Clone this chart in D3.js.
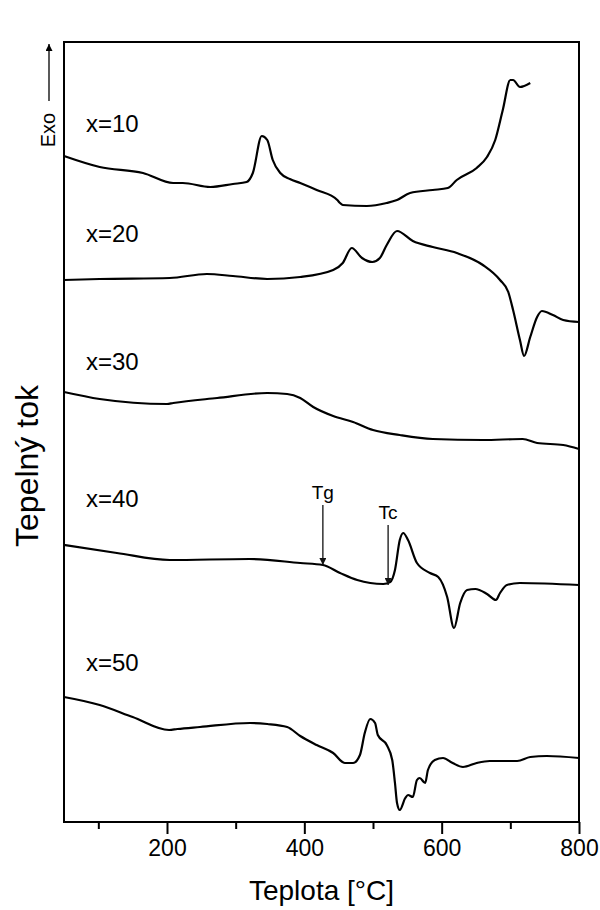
<!DOCTYPE html>
<html>
<head>
<meta charset="utf-8">
<script src="https://cdn.jsdelivr.net/npm/d3@7"></script>
<style>
  html, body { margin: 0; padding: 0; background: #ffffff; }
  svg { display: block; }
  text { font-family: "Liberation Sans", Arial, Helvetica, sans-serif; fill: #000; }
</style>
</head>
<body>
<svg id="chart" width="600" height="910"></svg>
<script>
// DSC traces (temperature in °C, heat flow in arbitrary units, offset per sample)
const seriesNames = ["x=10", "x=20", "x=30", "x=40", "x=50"];

const x10 = [
  [50, 66.6], [102, 65.5], [165, 64.9], [209, 63.9], [223, 63.9], [263, 63.5], [296, 63.8],
  [316, 64.0], [325, 64.9], [338, 68.6], [346, 68.2], [354, 66.2], [365, 64.9], [379, 64.3],
  [394, 63.9], [418, 63.2], [448, 62.2], [452, 61.9], [456, 61.7], [491, 61.6], [520, 61.9],
  [535, 62.2], [554, 62.9], [587, 63.2], [609, 63.4], [622, 64.2], [651, 65.4], [666, 66.5],
  [678, 68.2], [689, 71.2], [700, 74.2], [704, 74.2], [714, 73.5], [729, 73.9]
];
const x20 = [
  [50, 54.2], [102, 54.3], [204, 54.4], [258, 54.8], [296, 54.6], [346, 54.3], [394, 54.5],
  [442, 55.2], [456, 55.9], [469, 57.4], [484, 56.4], [499, 56.0], [510, 56.4], [520, 57.7],
  [535, 59.1], [558, 58.1], [587, 57.5], [622, 56.9], [660, 55.7], [685, 54.2], [697, 53.0],
  [704, 51.2], [714, 48.2], [720, 46.6], [729, 48.5], [739, 50.5], [746, 51.1], [762, 50.7],
  [777, 50.2], [800, 50.0]
];
const x30 = [
  [50, 43.0], [102, 42.3], [200, 41.8], [209, 41.9], [273, 42.4], [346, 42.9], [375, 42.8],
  [394, 42.4], [413, 41.5], [442, 40.6], [471, 40.0], [500, 39.2], [539, 38.7], [587, 38.3],
  [660, 38.2], [718, 38.3], [739, 37.9], [777, 37.7], [800, 37.3]
];
const x40 = [
  [50, 27.7], [127, 26.9], [204, 26.2], [320, 26.3], [394, 25.9], [427, 25.7], [452, 24.9],
  [477, 24.2], [515, 23.8], [525, 24.0], [532, 25.2], [539, 28.2], [544, 28.9], [551, 28.2],
  [564, 25.9], [583, 24.9], [595, 24.5], [608, 22.5], [618, 19.4], [627, 21.9], [637, 23.2],
  [649, 23.3], [666, 22.8], [679, 22.2], [685, 22.9], [695, 23.7], [714, 23.9], [800, 23.7]
];
const x50 = [
  [50, 12.5], [102, 11.7], [150, 10.5], [203, 9.2], [215, 9.3], [248, 9.5], [321, 9.9],
  [346, 9.8], [375, 9.5], [394, 8.6], [418, 7.7], [442, 6.9], [459, 5.9], [471, 5.9],
  [481, 6.7], [488, 8.9], [496, 10.3], [503, 9.9], [507, 8.7], [520, 7.7], [528, 6.2],
  [532, 3.9], [535, 1.9], [539, 1.2], [547, 2.4], [551, 2.7], [558, 2.5], [564, 4.2],
  [568, 4.4], [576, 3.9], [580, 5.2], [590, 6.2], [602, 6.4], [616, 5.9], [631, 5.5],
  [651, 5.9], [670, 6.1], [710, 6.1], [729, 6.5], [753, 6.6], [800, 6.4]
];
const seriesData = [x10, x20, x30, x40, x50];

// label anchor for each trace: temperature and signal level of the text baseline
const labelT = [82, 82, 82, 82, 82];
const labelV = [69.0, 58.0, 45.2, 31.5, 15.1];

// x axis ticks
const majorTicks = [200, 400, 600, 800];
const minorTicks = [100, 300, 500, 700];

// transition markers on the x=40 trace
const markerNames = ["Tg", "Tc"];
const markerT = [427, 522];
const markerTip = [25.7, 23.7];

const svg = d3.select("#chart");
const margin = { top: 42, right: 21, bottom: 88, left: 64 };
const W = 600, H = 910;
const iw = W - margin.left - margin.right;
const ih = H - margin.top - margin.bottom;

const xScale = d3.scaleLinear().domain([50, 800]).range([margin.left, margin.left + iw]);
const yScale = d3.scaleLinear().domain([0, 78]).range([margin.top + ih, margin.top]);

// arrow heads
const defs = svg.append("defs");
defs.append("marker")
  .attr("id", "headBig").attr("viewBox", "0 0 10 10")
  .attr("refX", 10).attr("refY", 5)
  .attr("markerWidth", 14).attr("markerHeight", 7)
  .attr("markerUnits", "userSpaceOnUse")
  .attr("orient", "auto")
  .append("path").attr("d", "M0,0 L10,5 L0,10 Z").attr("fill", "#000");
defs.append("marker")
  .attr("id", "headSmall").attr("viewBox", "0 0 10 10")
  .attr("refX", 10).attr("refY", 5)
  .attr("markerWidth", 15).attr("markerHeight", 7)
  .attr("markerUnits", "userSpaceOnUse")
  .attr("orient", "auto")
  .append("path").attr("d", "M0,0 L10,5 L0,10 Z").attr("fill", "#111");

// traces
const line = d3.line()
  .x(d => xScale(d[0]))
  .y(d => yScale(d[1]))
  .curve(d3.curveMonotoneX);

svg.append("g").selectAll("path")
  .data(seriesData)
  .join("path")
  .attr("d", line)
  .attr("fill", "none")
  .attr("stroke", "#000")
  .attr("stroke-width", 2.2)
  .attr("stroke-linejoin", "round");

// trace labels
svg.append("g").selectAll("text")
  .data(seriesNames)
  .join("text")
  .attr("x", (d, i) => xScale(labelT[i]))
  .attr("y", (d, i) => yScale(labelV[i]))
  .attr("font-size", 24)
  .text(d => d);

// Tg / Tc markers
const mk = svg.append("g");
markerNames.forEach((name, i) => {
  const tx = xScale(markerT[i]);
  const tipY = yScale(markerTip[i]);
  mk.append("line")
    .attr("x1", tx).attr("x2", tx)
    .attr("y1", tipY - 60).attr("y2", tipY)
    .attr("stroke", "#111").attr("stroke-width", 1.3)
    .attr("marker-end", "url(#headSmall)");
  mk.append("text")
    .attr("x", tx).attr("y", tipY - 66)
    .attr("text-anchor", "middle")
    .attr("font-size", 19)
    .text(name);
});

// frame
svg.append("rect")
  .attr("x", margin.left).attr("y", margin.top)
  .attr("width", iw).attr("height", ih)
  .attr("fill", "none").attr("stroke", "#000").attr("stroke-width", 2);

// bottom axis
const xAxis = d3.axisBottom(xScale)
  .tickValues(majorTicks)
  .tickSize(12)
  .tickPadding(6)
  .tickFormat(d3.format("d"));
const gx = svg.append("g")
  .attr("transform", `translate(0,${margin.top + ih})`)
  .call(xAxis);
gx.select(".domain").remove();
gx.selectAll(".tick line").attr("stroke", "#000").attr("stroke-width", 2);
gx.selectAll(".tick text")
  .attr("font-size", 23)
  .attr("fill", "#000")
  .attr("font-family", "Liberation Sans, Arial, sans-serif");

const gxm = svg.append("g")
  .attr("transform", `translate(0,${margin.top + ih})`)
  .call(d3.axisBottom(xScale).tickValues(minorTicks).tickSize(7).tickFormat(""));
gxm.select(".domain").remove();
gxm.selectAll(".tick line").attr("stroke", "#000").attr("stroke-width", 2);

// axis titles
svg.append("text")
  .attr("x", margin.left + iw / 2)
  .attr("y", 900)
  .attr("text-anchor", "middle")
  .attr("font-size", 28)
  .text("Teplota [°C]");

svg.append("text")
  .attr("transform", "translate(38,466) rotate(-90)")
  .attr("text-anchor", "middle")
  .attr("font-size", 32)
  .text("Tepelný tok");

// exothermic direction
svg.append("line")
  .attr("x1", 49).attr("x2", 49)
  .attr("y1", 101).attr("y2", 44)
  .attr("stroke", "#000").attr("stroke-width", 1.3)
  .attr("marker-end", "url(#headBig)");
svg.append("text")
  .attr("transform", "translate(55,130) rotate(-90)")
  .attr("text-anchor", "middle")
  .attr("font-size", 20)
  .text("Exo");
</script>
</body>
</html>
